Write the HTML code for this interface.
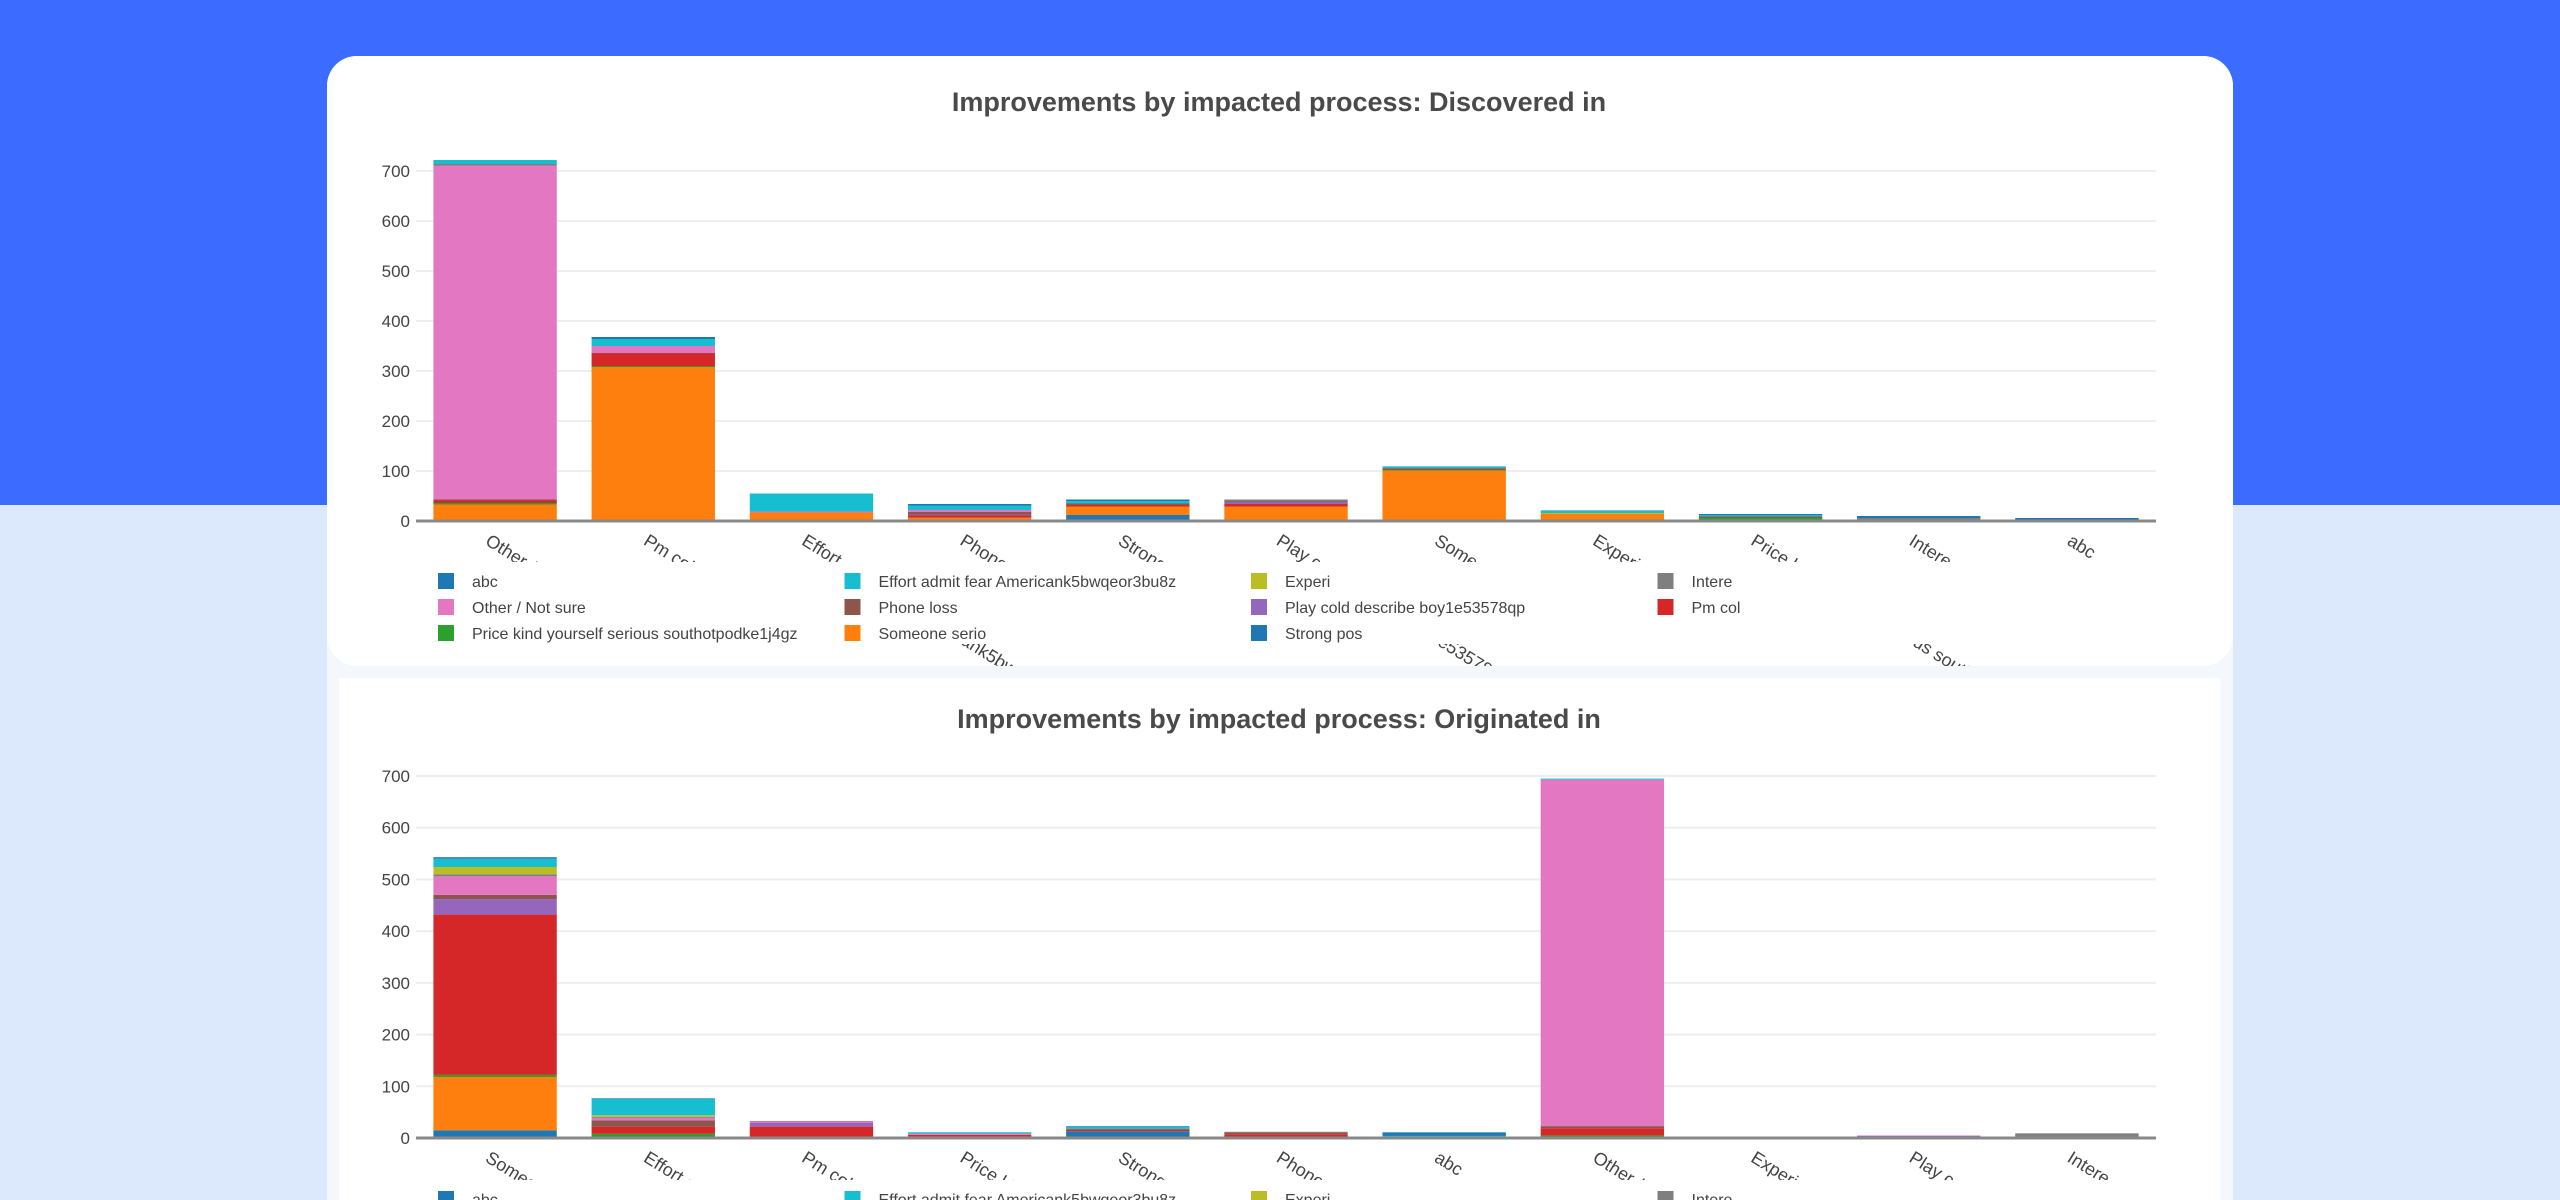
<!DOCTYPE html>
<html><head><meta charset="utf-8">
<style>
html,body{margin:0;padding:0;width:2560px;height:1200px;overflow:hidden;font-family:"Liberation Sans",sans-serif;position:relative;}
#bg-top{position:absolute;left:0;top:0;width:2560px;height:505px;background:#3c6bff;}
#bg-bottom{position:absolute;left:0;top:505px;width:2560px;height:695px;background:#dce9fc;}
#card{position:absolute;left:327px;top:56px;width:1906px;height:1144px;background:#f4f7fb;border-radius:30px 30px 0 0;overflow:hidden;}
#wrap{position:absolute;left:0;top:0;width:2560px;height:1200px;overflow:hidden;}
svg{position:absolute;left:0;top:0;overflow:hidden;}
</style></head>
<body>
<div id="bg-top"></div>
<div id="bg-bottom"></div>
<div id="card"></div>
<div id="wrap">
<svg id="chart" width="2560" height="1200" viewBox="0 0 2560 1200">
<defs><clipPath id="frame"><rect x="0" y="0" width="2560" height="1200"/></clipPath></defs>
<g id="root" clip-path="url(#frame)"></g>
</svg>
</div>
<script>
// Series (stack order bottom-to-top)
const seriesNames = ["abc","Someone serio","Price kind yourself serious southotpodke1j4gz","Pm col","Play cold describe boy1e53578qp","Phone loss","Other / Not sure","Intere","Experi","Effort admit fear Americank5bwqeor3bu8z","Strong pos"];
const seriesColors = ["#1f77b4","#ff7f0e","#2ca02c","#d62728","#9467bd","#8c564b","#e377c2","#7f7f7f","#bcbd22","#17becf","#1f77b4"];
const legendOrder = ["abc","Effort admit fear Americank5bwqeor3bu8z","Experi","Intere","Other / Not sure","Phone loss","Play cold describe boy1e53578qp","Pm col","Price kind yourself serious southotpodke1j4gz","Someone serio","Strong pos"];
const yTicks = [0,100,200,300,400,500,600,700];

// Chart 1: Discovered in
const cats1 = ["Other / Not sure","Pm col","Effort admit fear Americank5bwqeor3bu8z","Phone loss","Strong pos","Play cold describe boy1e53578qp","Someone serio","Experi","Price kind yourself serious southotpodke1j4gz","Intere","abc"];
const d1_abc     = [0,0,0,0,12,0,0,0,0,0,6];
const d1_someone = [33,308,17,7,17,29,101,14,2,2,0];
const d1_price   = [3,2,0,0,0,0,2,0,4,0,0];
const d1_pmcol   = [5,25,0,4,3,5,2,0,0,0,0];
const d1_play    = [0,0,0,2,0,4,0,0,0,0,0];
const d1_phone   = [2,1,0,5,3,1,0,0,3,0,0];
const d1_other   = [668,14,2,4,0,0,0,0,0,0,0];
const d1_intere  = [3,0,0,0,0,4,0,0,0,4,0];
const d1_experi  = [0,0,0,0,0,0,0,2,0,0,0];
const d1_effort  = [8,14,36,9,5,0,3,4,3,0,0];
const d1_strong  = [0,4,0,3,3,0,1,1,2,4,0];

// Chart 2: Originated in
const cats2 = ["Someone serio","Effort admit fear Americank5bwqeor3bu8z","Pm col","Price kind yourself serious southotpodke1j4gz","Strong pos","Phone loss","abc","Other / Not sure","Experi","Play cold describe boy1e53578qp","Intere"];
const d2_abc     = [15,2,0,0,13,0,0,0,0,0,0];
const d2_someone = [103,0,2,0,0,0,0,0,0,0,0];
const d2_price   = [4,6,0,3,0,0,0,5,0,0,0];
const d2_pmcol   = [310,14,20,3,3,7,3,14,0,0,0];
const d2_play    = [30,0,7,0,0,0,0,0,0,4,0];
const d2_phone   = [8,12,0,0,2,4,0,4,0,0,0];
const d2_other   = [36,5,3,2,0,0,0,670,0,1,1];
const d2_intere  = [4,2,1,0,0,1,0,0,0,0,8];
const d2_experi  = [14,3,0,0,0,0,0,0,2,0,0];
const d2_effort  = [16,32,0,2,4,0,1,2,0,0,0];
const d2_strong  = [3,1,0,1,1,0,7,0,0,0,0];

const NS="http://www.w3.org/2000/svg";
const root=document.getElementById('root');
function mk(tag,attrs,parent){const e=document.createElementNS(NS,tag);for(const k in attrs)e.setAttribute(k,attrs[k]);(parent||root).appendChild(e);return e;}

function drawChart(cfg){
  const g=mk('g',{});
  
  
  const p=mk('rect',{x:cfg.panelX,y:cfg.panelY,width:cfg.panelW,height:cfg.panelH,fill:'#fff',rx:cfg.panelR||0},g);
  
  
  const t=mk('text',{x:1279,y:cfg.titleY,'text-anchor':'middle','font-size':27,'font-weight':'bold',fill:'#4a4a4a'},g);
  t.textContent=cfg.title;
  
  
  const x0=416,x1=2156,n=cfg.cats.length,bw=(x1-x0)/n;
  const yS=v=>cfg.zeroY-(v/700)*(cfg.zeroY-cfg.topY);
  yTicks.forEach(v=>{
    if(v>0){const gl=mk('line',{x1:x0,x2:x1,y1:yS(v),y2:yS(v),stroke:'#eeeeee','stroke-width':2},g);
      
      }
    const tl=mk('text',{x:410,y:yS(v)+6,'text-anchor':'end','font-size':17,fill:'#444'},g);
    tl.textContent=v;
    
    
  });
  cfg.cats.forEach((c,i)=>{
    const cx=x0+bw*(i+0.5);
    let acc=0;
    cfg.data.forEach((arr,s)=>{
      const v=arr[i]; if(!v)return;
      const r=mk('rect',{x:cx-bw*0.39,y:yS(acc+v),width:bw*0.78,height:yS(acc)-yS(acc+v),fill:seriesColors[s]},g);
      
      
      acc+=v;
    });
    const lx=cx-4,ly=cfg.zeroY+12;
    const lab=mk('text',{x:lx,y:ly,'font-size':18,fill:'#444','dominant-baseline':'hanging',transform:`rotate(32 ${lx} ${ly})`},g);
    lab.textContent=cfg.maxLabel? c.slice(0,cfg.maxLabel) : c;
    
    
  });
  const ax=mk('line',{x1:x0,x2:x1,y1:cfg.zeroY,y2:cfg.zeroY,stroke:'#888','stroke-width':3},g);
  
  
  const lg=mk('g',{},g);
  
  
  mk('rect',{x:416,y:cfg.legY,width:1740,height:Math.min(82,1200-cfg.legY),fill:'#fff'},lg);
  legendOrder.forEach((nm,k)=>{
    const col=k%4,row=Math.floor(k/4);
    const sx=438+col*406.5, sy=cfg.legY+11+row*26;
    if(sy>1200) return;
    const e=mk('g',{},lg);
    
    
    mk('rect',{x:sx,y:sy,width:16,height:Math.min(16,1200-sy),fill:seriesColors[seriesNames.indexOf(nm)]},e);
    const tx=mk('text',{x:sx+34,y:sy+14,'font-size':16,fill:'#444'},e);
    tx.textContent=nm;
  });
}
drawChart({name:'discovered-in-chart',title:'Improvements by impacted process: Discovered in',panelX:327,panelY:56,panelW:1906,panelH:610,panelR:30,
  titleY:111,zeroY:521,topY:171,legY:562,cats:cats1,
  data:[d1_abc,d1_someone,d1_price,d1_pmcol,d1_play,d1_phone,d1_other,d1_intere,d1_experi,d1_effort,d1_strong]});
drawChart({name:'originated-in-chart',title:'Improvements by impacted process: Originated in',panelX:339,panelY:678,panelW:1881,panelH:522,
  titleY:728,zeroY:1138,topY:776,legY:1180,cats:cats2,maxLabel:8,
  data:[d2_abc,d2_someone,d2_price,d2_pmcol,d2_play,d2_phone,d2_other,d2_intere,d2_experi,d2_effort,d2_strong]});
const s1=mk('rect',{x:327,y:666,width:12,height:534,fill:'#f4f7fb'});


const s2=mk('rect',{x:2220,y:666,width:13,height:534,fill:'#f4f7fb'});


const s3=mk('rect',{x:327,y:666,width:1906,height:12,fill:'#f4f7fb'});


</script>
</body></html>
